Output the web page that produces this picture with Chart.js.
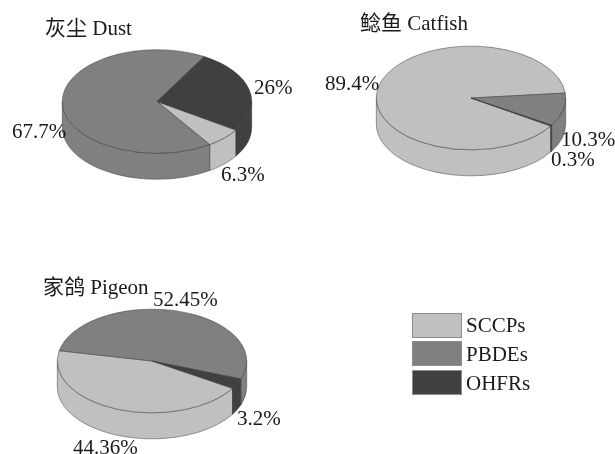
<!DOCTYPE html>
<html>
<head>
<meta charset="utf-8">
<script src="https://cdn.jsdelivr.net/npm/chart.js@4"></script>
<style>
html, body { margin: 0; padding: 0; background: #fff; }
#page { position: relative; width: 615px; height: 454px; overflow: hidden; }
#page canvas { position: absolute; left: 0; top: 0; }
.txt { position: absolute; white-space: nowrap; color: #1a1a1a; font: 21px/20px "Liberation Serif", "Noto Sans CJK SC", serif; }
.swatch { position: absolute; box-sizing: border-box; width: 50px; height: 25px; border: 1px solid #8c8c8c; }
</style>
</head>
<body>
<div id="page"></div>
<script>
const categories = ['SCCPs', 'PBDEs', 'OHFRs'];
const dustValues = [6.3, 67.7, 26];
const catfishValues = [89.4, 10.3, 0.3];
const pigeonValues = [44.36, 52.45, 3.2];
const colors = ['#c0c0c0', '#808080', '#404040'];

const pageW = 615, canvasH = 520;
const radius = 95, squash = 52 / 95, depth = 26;

// x, baseline
const pies = [
    { values: dustValues, cx: 157, cy: 101.5, rotation: 123.5,
      title: ['灰尘 Dust', 45, 35],
      labels: [['6.3%', 221, 181], ['67.7%', 12, 138], ['26%', 254, 94]] },
    { values: catfishValues, cx: 471, cy: 98, rotation: 122.7,
      title: ['鲶鱼 Catfish', 360, 30],
      labels: [['89.4%', 325, 90], ['10.3%', 561, 146], ['0.3%', 551, 166]] },
    { values: pigeonValues, cx: 152, cy: 361, rotation: 121.8,
      title: ['家鸽 Pigeon', 43, 294],
      labels: [['44.36%', 73, 454], ['52.45%', 153, 306], ['3.2%', 237, 425]] }
];
const legendTop = [313, 341, 370];
const legendBaseline = [332, 361, 390];

const page = document.getElementById('page');

function addText(str, x, baseline) {
    const el = document.createElement('div');
    el.className = 'txt';
    el.textContent = str;
    el.style.left = x + 'px';
    el.style.top = (baseline - 17) + 'px';
    page.appendChild(el);
}

// tilts the pie and draws the side wall under it, from the arcs chart.js laid out
const tiltPlugin = {
    id: 'tilt',
    beforeDatasetsDraw(chart) {
        const ctx = chart.ctx;
        const arcs = chart.getDatasetMeta(0).data;
        const x = arcs[0].x, y = arcs[0].y, r = arcs[0].outerRadius;
        ctx.save();
        ctx.translate(x, y);
        ctx.scale(1, squash);
        ctx.translate(-x, -y);
        const d = depth / squash;
        arcs.forEach((arc, i) => {
            let s = arc.startAngle, e = arc.endAngle;
            while (s < 0) { s += Math.PI * 2; e += Math.PI * 2; }
            [0, Math.PI * 2].forEach(off => {
                const a = Math.max(s, off), b = Math.min(e, off + Math.PI);
                if (b <= a) return;
                ctx.beginPath();
                ctx.arc(x, y, r, a, b);
                ctx.arc(x, y + d, r, b, a, true);
                ctx.closePath();
                ctx.fillStyle = colors[i];
                ctx.fill();
                ctx.lineWidth = 0.6;
                ctx.strokeStyle = '#303030';
                ctx.stroke();
            });
        });
    },
    afterDatasetsDraw(chart) {
        chart.ctx.restore();
    }
};

pies.forEach(p => {
    const canvas = document.createElement('canvas');
    canvas.width = pageW;
    canvas.height = canvasH;
    canvas.style.width = pageW + 'px';
    canvas.style.height = canvasH + 'px';
    page.appendChild(canvas);
    new Chart(canvas.getContext('2d'), {
        type: 'pie',
        data: {
            labels: categories,
            datasets: [{
                data: p.values,
                backgroundColor: colors,
                borderColor: '#303030',
                borderWidth: 0.6
            }]
        },
        options: {
            responsive: false,
            animation: false,
            rotation: p.rotation,
            layout: {
                padding: {
                    left: p.cx - radius,
                    right: pageW - p.cx - radius,
                    top: p.cy - radius,
                    bottom: canvasH - p.cy - radius
                }
            },
            plugins: { legend: { display: false }, tooltip: { enabled: false } }
        },
        plugins: [tiltPlugin]
    });
    addText(p.title[0], p.title[1], p.title[2]);
    p.labels.forEach(l => addText(l[0], l[1], l[2]));
});

categories.forEach((name, i) => {
    const box = document.createElement('div');
    box.className = 'swatch';
    box.style.left = '412px';
    box.style.top = legendTop[i] + 'px';
    box.style.background = colors[i];
    page.appendChild(box);
    addText(name, 466, legendBaseline[i]);
});
</script>
</body>
</html>
